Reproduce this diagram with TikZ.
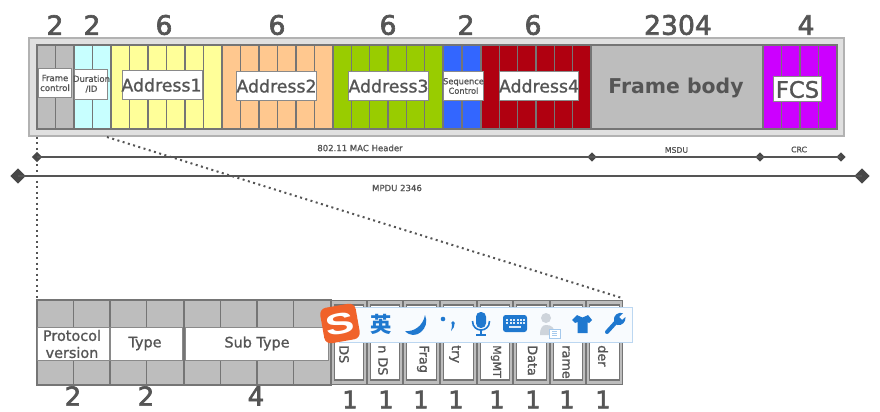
\documentclass[tikz,border=0pt]{standalone}
\usepackage{fontspec}
\usepackage{graphicx}
\setmainfont[FakeBold=1.2]{DejaVu Sans}
\newfontfamily\heavyfont[FakeBold=2.4]{DejaVu Sans}
\newfontfamily\cjkfont{Noto Sans CJK SC}
\newfontfamily\plainfont{DejaVu Sans}
\newfontfamily\logofont{Liberation Sans}
\usetikzlibrary{shapes.geometric}
\definecolor{ink}{HTML}{555555}
\definecolor{cellline}{HTML}{757575}
\definecolor{cellgray}{HTML}{BDBDBD}
\definecolor{icon}{HTML}{1F78CF}
\definecolor{ccyan}{HTML}{C8FFFF}
\definecolor{cyellow}{HTML}{FFFF99}
\definecolor{corange}{HTML}{FFC88F}
\definecolor{cgreen}{HTML}{99CC00}
\definecolor{cblue}{HTML}{3366FF}
\definecolor{cred}{HTML}{B00010}
\definecolor{cmag}{HTML}{CC00FF}
\definecolor{clogo}{HTML}{F0622A}
\newcommand{\fs}[1]{\fontsize{#1}{#1}\selectfont}
\tikzset{
  txt/.style={text=ink,inner sep=0pt,align=center},
  sz/.style={txt,font=\fs{#1}},
  num/.style={txt,font=\fs{#1}\heavyfont},
  cellbox/.style={draw=cellline,line width=.85pt},
  whitebox/.style={draw=cellline!85,fill=white,line width=.9pt},
  dia/.style={diamond,fill=ink!85!black,inner sep=0pt,minimum size=#1},
  rail/.style={draw=ink,line width=1.2pt},
  dots/.style={draw=ink,line width=1.5pt,dash pattern=on 1.5pt off 2.6pt},
}
% x0 x1 y0 y1 n colour
\newcommand{\cellrow}[6]{%
  \fill[#6] (#1,#3) rectangle (#2,#4);
  \foreach \k in {1,...,#5}{\draw[cellbox] ({#1+(#2-#1)*(\k-1)/#5},#3) rectangle ({#1+(#2-#1)*\k/#5},#4);}
}
% name x0 y0 x1 y1
\newcommand{\wbox}[5]{\node[whitebox,inner sep=0pt,minimum width={(#4-#2)*.75pt-.9pt},minimum height={(#5-#3)*.75pt-.9pt}] (#1) at ({(#2+#4)/2},{(#3+#5)/2}) {};}
\begin{document}
\begin{tikzpicture}[x=.75pt,y=-.75pt]
\useasboundingbox (0,0) rectangle (880,411);
% outer frame
\node[draw=black!30,fill=black!12,line width=1.2pt,inner sep=0pt,minimum width=611pt,minimum height=73.5pt] (frame) at (436.5,87) {};
% dotted connectors (under the rest)
\coordinate (z1) at (37,137);
\coordinate (z2) at (37,300);
\coordinate (z3) at (107,137);
\coordinate (z4) at (622,298);
\draw[dots] (z1) -- (z2);
\draw[dots] (z3) -- (z4);
% top cells
\cellrow{37}{74}{45}{129}{2}{cellgray}
\cellrow{74}{111}{45}{129}{2}{ccyan}
\cellrow{111}{222}{45}{129}{6}{cyellow}
\cellrow{222}{333}{45}{129}{6}{corange}
\cellrow{333}{443}{45}{129}{6}{cgreen}
\cellrow{443}{481}{45}{129}{2}{cblue}
\cellrow{481}{591}{45}{129}{6}{cred}
\cellrow{591}{763}{45}{129}{1}{cellgray}
\cellrow{763}{837}{45}{129}{4}{cmag}
% boxes
\wbox{bfc}{38}{68}{72}{98}
\wbox{bdu}{74}{69}{108}{100}
\wbox{ba1}{122}{70}{203}{100}
\wbox{ba2}{236}{71}{317}{101}
\wbox{ba3}{348}{71}{429}{101}
\wbox{bsq}{443}{71}{484}{101}
\wbox{ba4}{499}{71}{579}{101}
\wbox{bfcs}{773}{76}{822}{102}
\node[sz=6.4pt] (tfc) at (55,83) {Frame\\[1pt]control};
\node[sz=6.4pt] (tdu) at (91.5,84) {Duration\\[1pt]/ID};
\node[sz=13pt] (ta1) at (161.5,85) {Address1};
\node[sz=13pt] (ta2) at (276.5,86) {Address2};
\node[sz=13pt] (ta3) at (388.5,86) {Address3};
\node[sz=6.2pt] (tsq) at (463.5,86) {Sequence\\[1pt]Control};
\node[sz=13pt] (ta4) at (539,86) {Address4};
\node[sz=15.3pt,font=\fs{15.3pt}\plainfont\bfseries] (tfb) at (676,87.5) {Frame body};
\node[sz=17pt] (tfcs) at (797.5,89.5) {FCS};
% sizes
\node[num=20pt] (n1) at (55,25) {2};
\node[num=20pt] (n2) at (92,25) {2};
\node[num=20pt] (n3) at (164,25) {6};
\node[num=20pt] (n4) at (277,25) {6};
\node[num=20pt] (n5) at (388,25) {6};
\node[num=20pt] (n6) at (466,25) {2};
\node[num=20pt] (n7) at (533,25) {6};
\node[num=20pt] (n8) at (678,25) {2304};
\node[num=20pt] (n9) at (806,25) {4};
% rails
\node[dia=8pt] (r1) at (37,157) {};
\node[dia=7pt] (r2) at (592,157) {};
\node[dia=7pt] (r3) at (760,157) {};
\node[dia=7pt] (r4) at (841,157) {};
\node[dia=11.5pt] (m1) at (18,176) {};
\node[dia=11.5pt] (m2) at (862,176) {};
\draw[rail] (r1.center) -- (r2.center);
\draw[rail] (r2.center) -- (r3.center);
\draw[rail] (r3.center) -- (r4.center);
\draw[rail] (m1.center) -- (m2.center);
\node[sz=6.4pt] (lh) at (360,148) {802.11 MAC Header};
\node[sz=5.8pt] (lm) at (676.5,150) {MSDU};
\node[sz=5.8pt] (lc) at (799,149.5) {CRC};
\node[sz=6.4pt] (lp) at (397,188) {MPDU 2346};
% lower cells
\cellrow{37}{73.5}{300}{385}{1}{cellgray}
\cellrow{73.5}{110}{300}{385}{1}{cellgray}
\cellrow{110}{146.5}{300}{385}{1}{cellgray}
\cellrow{146.5}{184}{300}{385}{1}{cellgray}
\cellrow{184}{220.5}{300}{385}{1}{cellgray}
\cellrow{220.5}{257}{300}{385}{1}{cellgray}
\cellrow{257}{293.5}{300}{385}{1}{cellgray}
\cellrow{293.5}{331}{300}{385}{1}{cellgray}
\wbox{bpv}{37}{327}{110}{361}
\wbox{bty}{110}{327}{183}{361}
\wbox{bst}{185}{327}{329}{361}
\node[sz=10.8pt] (tpv) at (72,344) {Protocol\\[2pt]version};
\node[sz=10.8pt] (tty) at (145,343.5) {Type};
\node[sz=10.8pt] (tst) at (257,343.5) {Sub Type};
\foreach \i/\a/\b in {1/331/367,2/367/403,3/403/440,4/440/477,5/477/513,6/513/550,7/550/586,8/586/623}{
  \node[draw=cellline,fill=cellgray,line width=.85pt,inner sep=0pt,minimum width={(\b-\a)*.75pt-.85pt},minimum height={85*.75pt-.85pt}] (fo\i) at ({(\a+\b)/2},342.5) {};
  \node[draw=cellline,fill=white,line width=.85pt,inner sep=0pt,minimum width={(\b-\a-7)*.75pt},minimum height={75*.75pt}] (fi\i) at ({(\a+\b)/2},342.5) {};
}
\foreach \i/\x/\t in {1/344/DS,2/383/n DS,3/423/Frag,4/455/try,6/532.5/Data,7/566/rame,8/603/der}{
  \node[sz=9.6pt,rotate=-90,anchor=west] (ft\i) at (\x,345) {\t};
}
\node[sz=8.2pt,rotate=-90,anchor=west] (ft5) at (496,345) {MgMT};
\node[num=19.5pt] (b1) at (73,396) {2};
\node[num=19.5pt] (b2) at (146,396) {2};
\node[num=19.5pt] (b3) at (256,396) {4};
\foreach \i/\x in {1/350,2/386,3/421,4/456,5/497,6/533,7/567,8/603}{
  \node[num=18pt] (o\i) at (\x,399.5) {1};
}
% input-method toolbar
\node[draw=icon!30,fill=white!97!icon,line width=.8pt,inner sep=0pt,minimum width=220pt,minimum height=26.5pt] (bar) at (486,325) {};
\node[fill=clogo,rounded corners=5pt,rotate=10,inner sep=0pt,minimum size=27pt,text=white,font=\fs{26pt}\logofont\bfseries] (logo) at (340,323.5) {\scalebox{1.25}[.85]{S}};
\node[text=icon,inner sep=0pt,font=\fs{16pt}\cjkfont\bfseries] (ying) at (381,324) {英};
% moon
\fill[icon] (425,315) .. controls (431,328) and (415,342) .. (405,331) .. controls (414,332) and (423,326) .. (425,315) -- cycle;
% dot and comma
\fill[icon] (443,319) circle[radius=2.3];
\fill[icon] (453,323) circle[radius=1.8] (454.7,323) .. controls (455,326) and (453,329) .. (451,331) .. controls (452,328) and (452,326) .. (452,323) -- cycle;
% microphone
\fill[icon,rounded corners=3.5pt] (476,312) rectangle (486,328);
\draw[icon,line width=1.2pt] (472.5,321) .. controls (472.5,333) and (489.5,333) .. (489.5,321);
\draw[icon,line width=1.2pt] (481,330) -- (481,335) (476,335) -- (486,335);
% keyboard
\fill[icon,rounded corners=2pt] (503,315) rectangle (527,332);
\foreach \yy in {319.5,323}{\foreach \xx in {507,510.5,514,517.5,521,523.5}{\fill[white!85!icon] (\xx-1,\yy-1) rectangle (\xx+1,\yy+1);}}
\fill[white!85!icon] (509,326) rectangle (521,328);
% person
\fill[icon!35!black!20] (546,318) circle[radius=5];
\fill[icon!35!black!20] (540,335) .. controls (540,327) and (543,325) .. (546,325) .. controls (551,325) and (555,327) .. (555,335) -- cycle;
\draw[icon!40,fill=white,line width=.7pt] (549,329) rectangle (560,338);
\draw[icon!40,line width=.7pt] (552,331.5) -- (557,331.5) (552,333.5) -- (557,333.5) (552,335.5) -- (557,335.5);
% shirt
\fill[icon] (577,315) -- (579,316) .. controls (581,318) and (584,318) .. (586,316) -- (588,315) -- (592,320) -- (589,323) -- (587.5,322) -- (587.5,333) -- (577.5,333) -- (577.5,322) -- (575,323) -- (572,320) -- cycle;
% wrench
\draw[icon,line width=3pt,line cap=round] (607,332) -- (617,321);
\fill[icon] (614,321) .. controls (613,315) and (618,312) .. (623,313) -- (619,317) -- (622,320) -- (625.5,317) .. controls (626,322) and (622,326) .. (617,325) -- cycle;
\end{tikzpicture}
\end{document}
